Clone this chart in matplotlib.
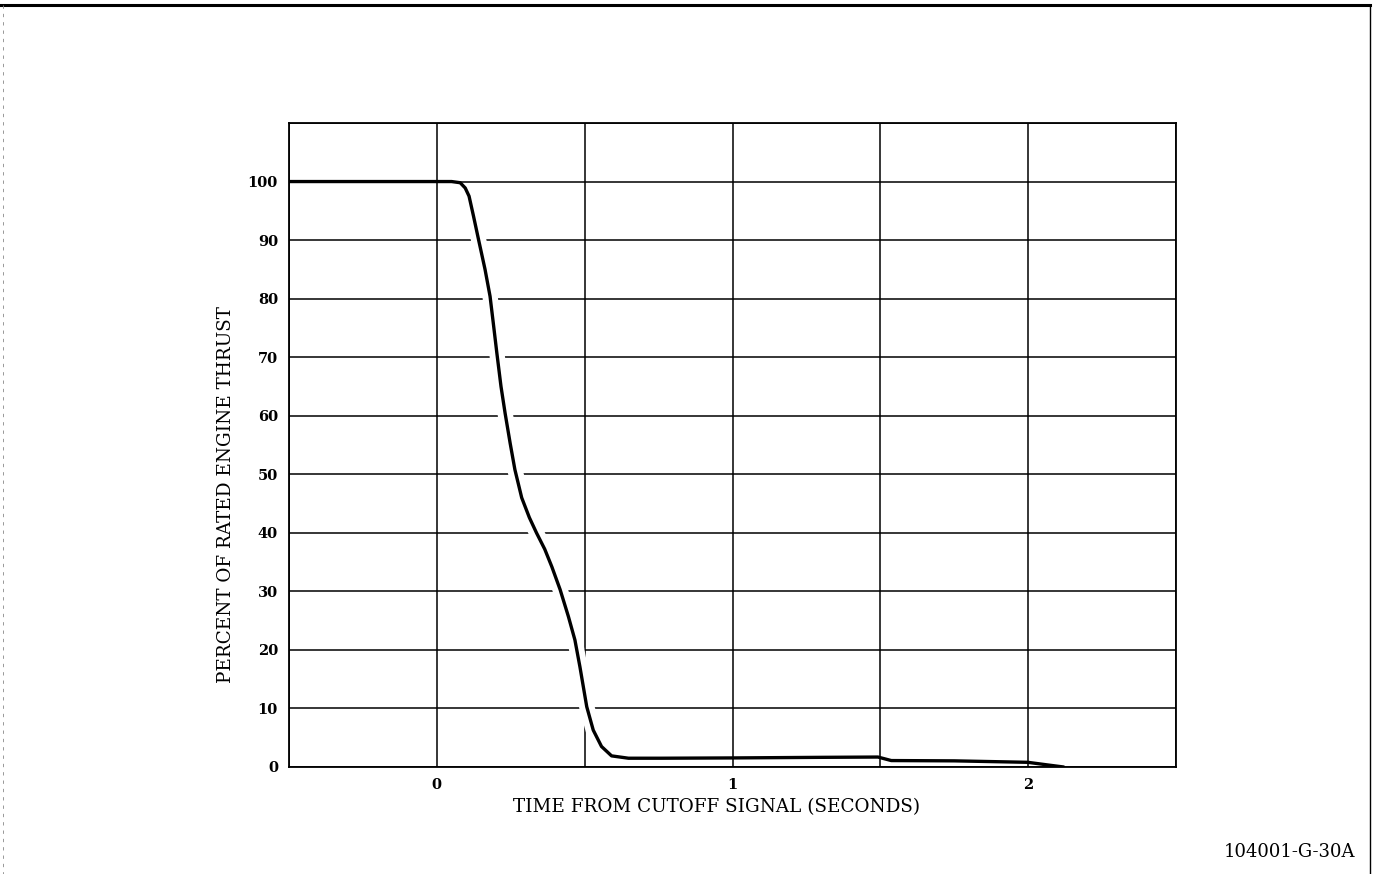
import matplotlib
matplotlib.use("Agg")
import matplotlib.pyplot as plt
from matplotlib.lines import Line2D

# Data
time_s = [-0.5, 0.0, 0.05, 0.079, 0.096, 0.109, 0.124, 0.141, 0.163, 0.180,
          0.191, 0.203, 0.217, 0.231, 0.248, 0.264, 0.287, 0.313, 0.337,
          0.365, 0.389, 0.417, 0.445, 0.467, 0.484, 0.507, 0.529, 0.557,
          0.591, 0.648, 0.76, 1.0, 1.3, 1.492, 1.537, 1.75, 1.999, 2.066,
          2.12]
thrust_pct = [100, 100, 100, 99.8, 98.9, 97.5, 94.1, 90.1, 85.0, 80.4,
              75.8, 70.7, 65.0, 60.4, 55.3, 50.8, 46.0, 42.6, 40.0,
              37.2, 34.2, 30.3, 25.7, 21.7, 17.1, 10.3, 6.3, 3.5,
              1.9, 1.5, 1.5, 1.55, 1.65, 1.7, 1.1, 1.05, 0.8, 0.35, 0]
x_ticks = [0, 1, 2]
x_tick_labels = ["0", "1", "2"]
x_grid = [-0.5, 0, 0.5, 1, 1.5, 2, 2.5]
y_ticks = [0, 10, 20, 30, 40, 50, 60, 70, 80, 90, 100]
y_grid = [0, 10, 20, 30, 40, 50, 60, 70, 80, 90, 100, 110]
x_label = "TIME FROM CUTOFF SIGNAL (SECONDS)"
y_label = "PERCENT OF RATED ENGINE THRUST"
drawing_id = "104001-G-30A"

serif = ["DejaVu Serif"]

fig = plt.figure(figsize=(13.76, 8.74), dpi=100)
ax = fig.add_axes([289/1376, 1-767/874, (1176-289)/1376, (767-123)/874])

ax.set_xlim(-0.5, 2.5)
ax.set_ylim(0, 110)

for gx in x_grid:
    ax.axvline(gx, color="black", lw=1.1, zorder=1)
for gy in y_grid:
    ax.axhline(gy, color="black", lw=1.1, zorder=1)

# steep part gets a white halo (gaps in grid like the drafting original)
i0, i1 = 4, 29
ax.plot(time_s[i0:i1], thrust_pct[i0:i1], color="white", lw=11,
        solid_capstyle="butt", solid_joinstyle="round", zorder=2)
ax.plot(time_s, thrust_pct, color="black", lw=2.4, zorder=3,
        solid_joinstyle="round", solid_capstyle="round")

ax.set_xticks(x_ticks)
ax.set_xticklabels(x_tick_labels)
ax.set_yticks(y_ticks)
ax.tick_params(length=0, pad=8)
for lab in ax.get_xticklabels() + ax.get_yticklabels():
    lab.set_family(serif)
    lab.set_fontsize(10.5)
    lab.set_fontweight("bold")
for sp in ax.spines.values():
    sp.set_linewidth(1.3)

fig.text(717/1376, 1-807/874, x_label, ha="center", va="center",
         family=serif, fontsize=13.2)
fig.text(226/1376, 1-495/874, y_label, ha="center", va="center",
         rotation=90, family=serif, fontsize=13.2)
fig.text(1289/1376, 1-852/874, drawing_id, ha="center", va="center",
         family=serif, fontsize=13)

# page frame (top and right edges of the drawing border)
fig.add_artist(Line2D([0.0, 1370/1376], [1-5/874, 1-5/874],
                      transform=fig.transFigure, color="black", lw=2.2))
fig.add_artist(Line2D([1370/1376, 1370/1376], [1-5/874, 0.0],
                      transform=fig.transFigure, color="black", lw=1.0))
fig.add_artist(Line2D([3/1376, 3/1376], [1-5/874, 0.0],
                      transform=fig.transFigure, color="#888888", lw=0.6,
                      linestyle=(0, (4, 6))))

fig.savefig("out.png", dpi=100, facecolor="white")
